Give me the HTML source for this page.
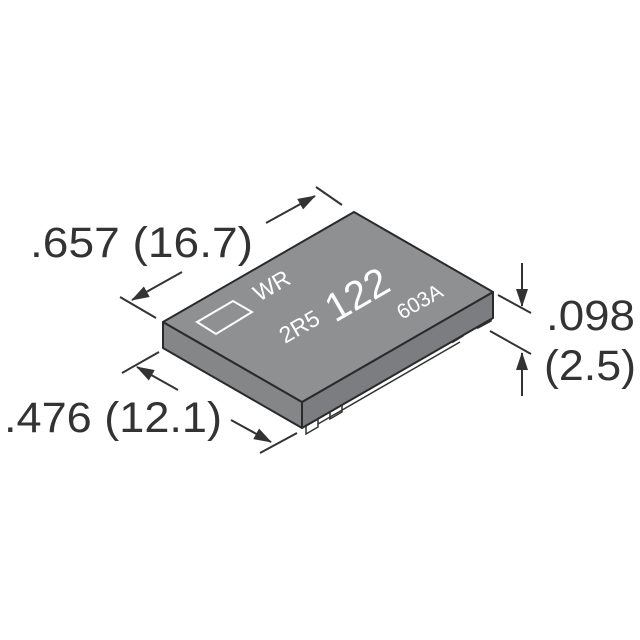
<!DOCTYPE html>
<html><head><style>
html,body{margin:0;padding:0;background:#fff;width:640px;height:640px;overflow:hidden}
</style></head><body>
<svg width="640" height="640" viewBox="0 0 640 640" xmlns="http://www.w3.org/2000/svg">
<defs>
<marker id="ah" markerWidth="18" markerHeight="12" refX="17" refY="6" orient="auto" markerUnits="userSpaceOnUse" viewBox="0 0 18 12">
<path d="M0,0 L18,6 L0,12 z" fill="#333"/></marker>
</defs>
<!-- feet -->
<g fill="#fff" stroke="#333" stroke-width="1.5">
<polygon points="478,320 491,313 491,321 478,328"/>
<polygon points="453,334 463,328 463,336 453,342"/>
<polygon points="330,412 342,405 342,412 330,419"/>
<polygon points="306,426 318,419 318,427 306,434"/>
</g>
<line x1="318" y1="424" x2="460" y2="342" stroke="#333" stroke-width="1.5"/>
<!-- body -->
<polygon points="163,322 302,402 302,428 163,348" fill="#858688" stroke="#2a2a2a" stroke-width="2" stroke-linejoin="round"/>
<polygon points="302,402 493,292 493,318 302,428" fill="#7c7d80" stroke="#2a2a2a" stroke-width="2" stroke-linejoin="round"/>
<polygon points="163,322 354,212 493,292 302,402" fill="#8f9092" stroke="#2a2a2a" stroke-width="2" stroke-linejoin="round"/>
<!-- icon -->
<polygon points="197,322 233,301 252,312 216,334" fill="none" stroke="#fff" stroke-width="2"/>
<g fill="#fff" font-family="Liberation Sans, sans-serif">
<text transform="translate(259,302) rotate(-30)" font-size="23">WR</text>
<text transform="translate(285,344) rotate(-30)" font-size="23">2R5</text>
<text transform="translate(335,323) rotate(-30)" font-size="40">122</text>
<text transform="translate(402,320) rotate(-30)" font-size="21">603A</text>
</g>
<!-- dimension lines -->
<g stroke="#333" stroke-width="2" fill="none">
<line x1="316" y1="187" x2="342" y2="205"/>
<line x1="266" y1="223" x2="315" y2="196" marker-end="url(#ah)"/>
<line x1="120" y1="297" x2="156" y2="318"/>
<line x1="182" y1="272" x2="132" y2="300" marker-end="url(#ah)"/>
<line x1="122" y1="373" x2="159" y2="352"/>
<line x1="178" y1="390" x2="137" y2="367" marker-end="url(#ah)"/>
<line x1="260" y1="453" x2="297" y2="433"/>
<line x1="231" y1="420" x2="271" y2="442" marker-end="url(#ah)"/>
<line x1="498" y1="295" x2="531" y2="313"/>
<line x1="490" y1="331" x2="531" y2="354"/>
<line x1="522" y1="263" x2="522" y2="306" marker-end="url(#ah)"/>
<line x1="522" y1="396" x2="522" y2="353" marker-end="url(#ah)"/>
</g>
<g fill="#333" font-family="Liberation Sans, sans-serif" font-size="43">
<text x="30" y="257" textLength="223" lengthAdjust="spacingAndGlyphs">.657 (16.7)</text>
<text x="4" y="432" textLength="218" lengthAdjust="spacingAndGlyphs">.476 (12.1)</text>
<text x="546" y="330" textLength="89" lengthAdjust="spacingAndGlyphs">.098</text>
<text x="544" y="380" textLength="92" lengthAdjust="spacingAndGlyphs">(2.5)</text>
</g>
</svg>
</body></html>
